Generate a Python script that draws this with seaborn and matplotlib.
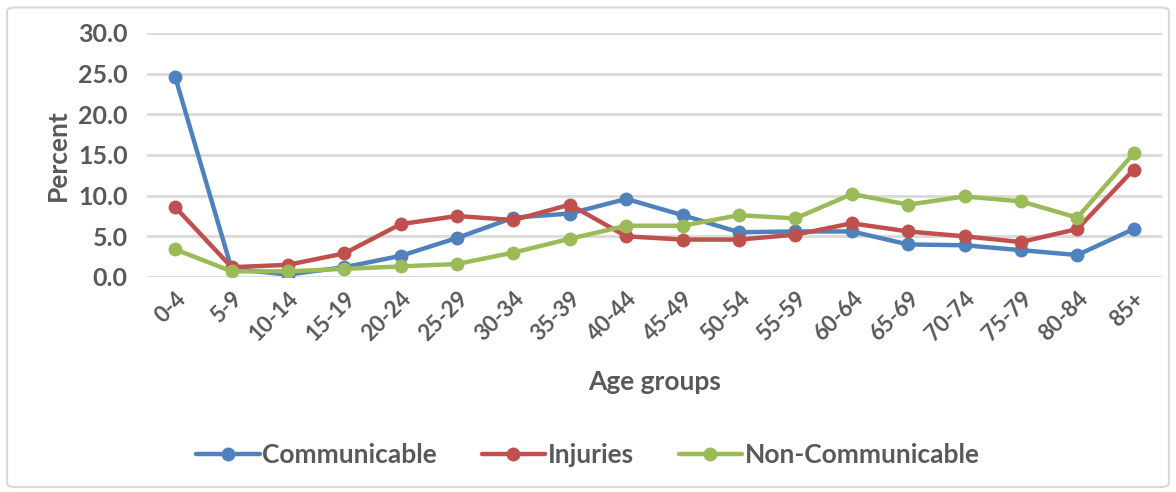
import pandas as pd
import matplotlib.pyplot as plt
import seaborn as sns
from matplotlib.patches import FancyBboxPatch

age_groups = ["0-4", "5-9", "10-14", "15-19", "20-24", "25-29", "30-34", "35-39", "40-44",
              "45-49", "50-54", "55-59", "60-64", "65-69", "70-74", "75-79", "80-84", "85+"]
communicable = [24.6, 1.0, 0.3, 1.2, 2.6, 4.8, 7.3, 7.8, 9.6,
                7.6, 5.5, 5.6, 5.6, 4.0, 3.9, 3.3, 2.7, 5.9]
injuries = [8.6, 1.2, 1.5, 2.9, 6.5, 7.5, 7.0, 8.9, 5.0,
            4.6, 4.6, 5.2, 6.6, 5.6, 5.0, 4.3, 5.9, 13.2]
non_communicable = [3.4, 0.7, 0.7, 1.0, 1.3, 1.6, 3.0, 4.7, 6.3,
                    6.3, 7.6, 7.2, 10.2, 8.9, 9.9, 9.3, 7.3, 15.2]

series = {"Communicable": communicable, "Injuries": injuries, "Non-Communicable": non_communicable}
colors = ["#4F81BD", "#C0504D", "#9BBB59"]

df = pd.DataFrame(series, index=age_groups).reset_index(names="Age")
df = df.melt(id_vars="Age", var_name="Cause", value_name="Percent")

sns.set_style("white")
plt.rcParams["font.family"] = ["Lato", "DejaVu Sans"]
text_col = "#595959"

fig = plt.figure(figsize=(11.76, 4.92), dpi=100)
ax = fig.add_axes([0.125, 0.437, 0.863, 0.496])

sns.lineplot(data=df, x="Age", y="Percent", hue="Cause", palette=colors,
             marker="o", markersize=10, markeredgewidth=0, linewidth=3.2,
             sort=False, ax=ax)

ax.set_ylim(0, 30)
ax.set_xlim(-0.5, len(age_groups) - 0.5)
ax.set_yticks(range(0, 31, 5))
ax.set_yticklabels([f"{v:.1f}" for v in range(0, 31, 5)],
                   fontsize=18, fontweight="bold", color=text_col)
ax.set_xticks(range(len(age_groups)))
ax.set_xticklabels(age_groups, rotation=45, ha="right", rotation_mode="anchor",
                   fontsize=16, fontweight="bold", color=text_col)
ax.tick_params(axis="y", length=0, pad=14)
ax.tick_params(axis="x", length=0, pad=8)
ax.yaxis.grid(True, color="#D9D9D9", linewidth=2)
ax.set_axisbelow(True)
for s in ax.spines.values():
    s.set_visible(False)

ax.set_ylabel("Percent", fontsize=19, fontweight="bold", color=text_col, labelpad=6)
ax.set_xlabel("Age groups", fontsize=19, fontweight="bold", color=text_col, labelpad=18)

handles, labels = ax.get_legend_handles_labels()
ax.legend_.remove()
leg = fig.legend(handles, labels, loc="center", bbox_to_anchor=(0.5, 0.075), ncol=3,
                 frameon=False, fontsize=19, handlelength=2.4, columnspacing=1.7,
                 handletextpad=0.1)
for t in leg.get_texts():
    t.set_color(text_col)
    t.set_fontweight("bold")

border = FancyBboxPatch((0.006, 0.01), 0.988, 0.975, boxstyle="round,pad=0,rounding_size=0.008",
                        transform=fig.transFigure, fill=False, edgecolor="#D9D9D9", linewidth=1.5)
fig.patches.append(border)

fig.savefig("out.png", dpi=100, facecolor="white")
